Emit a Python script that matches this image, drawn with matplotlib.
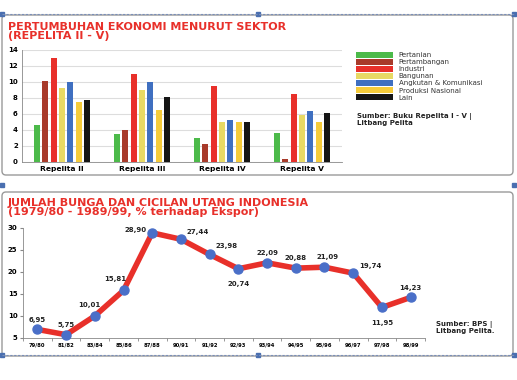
import matplotlib
matplotlib.use("Agg")
import matplotlib.pyplot as plt
import numpy as np
from matplotlib.patches import FancyBboxPatch, Rectangle

# ---- data: bar chart ----
groups = ["Repelita II", "Repelita III", "Repelita IV", "Repelita V"]
sectors = ["Pertanian", "Pertambangan", "Industri", "Bangunan",
           "Angkutan & Komunikasi", "Produksi Nasional", "Lain"]
pertanian = [4.6, 3.5, 3.0, 3.6]
pertambangan = [10.1, 4.0, 2.3, 0.4]
industri = [13.0, 11.0, 9.5, 8.5]
bangunan = [9.2, 9.0, 5.0, 5.9]
angkutan = [10.0, 10.0, 5.2, 6.4]
produksi = [7.5, 6.5, 5.0, 5.0]
lain = [7.7, 8.1, 5.0, 6.1]
bar_series = [pertanian, pertambangan, industri, bangunan, angkutan, produksi, lain]
bar_colors = ["#4cba4a", "#a83a2a", "#e8302a", "#e8d964", "#3f6fc0", "#f5cb3a", "#151515"]

# ---- data: line chart ----
years = ["79/80", "81/82", "83/84", "85/86", "87/88", "90/91", "91/92",
         "92/93", "93/94", "94/95", "95/96", "96/97", "97/98", "98/99"]
debt = [6.95, 5.75, 10.01, 15.81, 28.90, 27.44, 23.98, 20.74, 22.09,
        20.88, 21.09, 19.74, 11.95, 14.23]
debt_labels = ["6,95", "5,75", "10,01", "15,81", "28,90", "27,44", "23,98",
               "20,74", "22,09", "20,88", "21,09", "19,74", "11,95", "14,23"]

W, H = 517, 380
fig = plt.figure(figsize=(W / 100, H / 100), dpi=100)
fig.patch.set_facecolor("white")

def fx(px):
    return px / W

def fy(py):
    return 1 - py / H

# background decorations
bg = fig.add_axes([0, 0, 1, 1])
bg.set_xlim(0, W)
bg.set_ylim(H, 0)
bg.axis("off")
for (y0, y1) in [(15, 175), (192, 356)]:
    bg.add_patch(FancyBboxPatch((2, y0), 511, y1 - y0,
                                boxstyle="round,pad=0,rounding_size=4",
                                fc="white", ec="#9a9a9a", lw=1.0))
bg.plot([2, 514], [14, 14], ls=(0, (2, 1.5)), color="#7a8fb8", lw=0.8)
bg.plot([2, 514], [355, 355], ls=(0, (2, 1.5)), color="#7a8fb8", lw=0.8)
for (x, y) in [(2, 14), (258, 14), (514, 14), (2, 185), (514, 185),
               (2, 355), (258, 355), (514, 355)]:
    bg.add_patch(Rectangle((x - 2, y - 2), 4, 4, color="#4a6fb0"))

red = "#e8302a"
bg.text(8, 22, "PERTUMBUHAN EKONOMI MENURUT SEKTOR\n(REPELITA II - V)",
        color=red, fontsize=8.0, fontweight="heavy", va="top", ha="left",
        linespacing=0.9)
bg.text(8, 198, "JUMLAH BUNGA DAN CICILAN UTANG INDONESIA\n(1979/80 - 1989/99, % terhadap Ekspor)",
        color=red, fontsize=8.0, fontweight="heavy", va="top", ha="left",
        linespacing=0.9)

# ---- bar chart ----
ax1 = fig.add_axes([fx(22), fy(162), fx(320), 112 / H])
x = np.arange(len(groups))
pitch = 0.106
bw = 0.075
for i, (vals, c) in enumerate(zip(bar_series, bar_colors)):
    ax1.bar(x + (i - 3) * pitch, vals, width=bw, color=c, label=sectors[i], zorder=3)
ax1.set_xlim(-0.5, 3.5)
ax1.set_ylim(0, 14)
ax1.set_yticks(range(0, 15, 2))
ax1.set_xticks(x)
ax1.set_xticklabels(groups)
ax1.tick_params(axis="y", labelsize=5.0, length=0, pad=3)
ax1.tick_params(axis="x", labelsize=5.4, length=0, pad=3)
for lab in ax1.get_xticklabels() + ax1.get_yticklabels():
    lab.set_fontweight("bold")
ax1.grid(axis="y", color="#dddddd", lw=0.8, zorder=0)
for s in ["top", "right"]:
    ax1.spines[s].set_visible(False)
ax1.spines["left"].set_color("#888888")
ax1.spines["bottom"].set_color("#888888")
ax1.spines["left"].set_linewidth(0.6)
ax1.spines["bottom"].set_linewidth(0.6)

handles, labels = ax1.get_legend_handles_labels()
leg = fig.legend(handles, labels, loc="upper left",
                 bbox_to_anchor=(fx(353), fy(49)), frameon=False,
                 fontsize=5.0, handlelength=5.4, handleheight=0.9,
                 labelspacing=0.12, handletextpad=0.8, borderaxespad=0)
for t in leg.get_texts():
    t.set_color("#333333")
bg.text(357, 113, "Sumber: Buku Repelita I - V |\nLitbang Pelita", fontsize=5.0,
        fontweight="bold", color="#222222", va="top", ha="left", linespacing=1.1)

# ---- line chart ----
ax2 = fig.add_axes([fx(23), fy(338), fx(402), 110 / H])
xi = np.arange(len(years))
ax2.plot(xi, debt, color=red, lw=4, zorder=2, solid_joinstyle="round")
ax2.plot(xi, debt, "o", color="#4a6fc8", ms=6.5, zorder=3, clip_on=False)
ax2.set_xlim(-0.49, 13.45)
ax2.set_ylim(5, 30)
ax2.set_yticks(range(5, 31, 5))
ax2.set_xticks(xi)
ax2.set_xticklabels(years)
ax2.set_xticks(np.arange(-0.5, 13.6, 1), minor=True)
ax2.tick_params(axis="x", which="major", length=0, labelsize=3.8, pad=3)
ax2.tick_params(axis="x", which="minor", length=2, color="#888888")
ax2.tick_params(axis="y", labelsize=5.0, length=2, color="#888888", pad=2)
for lab in ax2.get_xticklabels() + ax2.get_yticklabels():
    lab.set_fontweight("bold")
for s in ["top", "right"]:
    ax2.spines[s].set_visible(False)
ax2.spines["left"].set_color("#888888")
ax2.spines["bottom"].set_color("#888888")
ax2.spines["left"].set_linewidth(0.6)
ax2.spines["bottom"].set_linewidth(0.6)

offsets = [(0, 7), (0, 7), (-4, 8), (-6, 8), (-12, 2), (12, 5), (12, 6),
           (0, -11), (0, 7), (0, 7), (2, 7), (12, 5), (0, -11), (0, 7)]
for xv, yv, t, (dx, dy) in zip(xi, debt, debt_labels, offsets):
    ax2.annotate(t, (xv, yv), xytext=(dx, dy), textcoords="offset points",
                 ha="center", va="center", fontsize=5.0, fontweight="bold",
                 color="#222222")
bg.text(436, 321, "Sumber: BPS |\nLitbang Pelita.", fontsize=5.0,
        fontweight="bold", color="#222222", va="top", ha="left", linespacing=1.1)

fig.savefig("out.png", dpi=100, facecolor="white")
